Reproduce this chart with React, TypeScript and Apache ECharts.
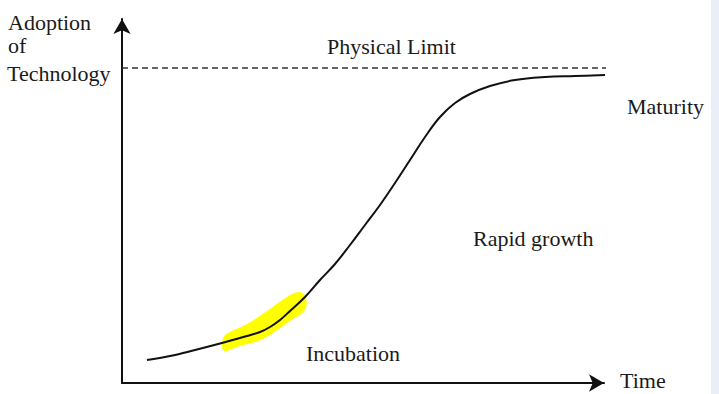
import React, { useEffect, useRef } from "react";
import * as echarts from "echarts";

// Time (x) and adoption (y, % of physical limit) for the S-curve
const curveTime = [5.0, 9.6, 14.6, 19.6, 24.6, 27.6, 29.6, 31.6, 33.6, 36.6, 39.6, 42.6, 45.6, 48.6, 51.6, 54.6, 57.6, 60.6, 63.6, 66.6, 69.6, 73.6, 78.6, 84.6, 90.6, 97.0];
const curveAdoption = [7.3, 8.57, 10.48, 12.54, 14.76, 16.19, 17.78, 20.0, 22.86, 27.3, 32.7, 37.78, 43.81, 50.16, 56.51, 63.49, 70.79, 78.1, 84.44, 88.89, 91.75, 94.29, 96.19, 97.14, 97.46, 97.78];

// Physical limit level
const limitLevel = 100;
const limitTime = [0, 99.6];

// Yellow highlight band outline
const bandTime = [20.0, 20.6, 25.0, 28.4, 33.6, 35.6, 36.8, 36.6, 33.6, 28.2, 23.6, 20.4];
const bandAdoption = [12.7, 15.24, 18.73, 22.22, 27.94, 28.89, 27.3, 23.17, 19.68, 13.97, 11.75, 10.16];

// Text labels
const axisTitleY = ["Adoption", "of", "Technology"];
const axisTitleX = "Time";
const limitLabel = "Physical Limit";
const phaseLabels = ["Incubation", "Rapid growth", "Maturity"];

export default function App() {
  const ref = useRef<HTMLDivElement>(null);
  useEffect(() => {
    if (!ref.current) return;
    const chart = echarts.init(ref.current, undefined, { renderer: "svg" });
    const txt = (text: string, x: number, y: number) => ({
      type: "text",
      x,
      y,
      z: 100,
      style: { text, fontFamily: "serif", fontSize: 22, fill: "#1a1a1a" },
    });
    chart.setOption({
      animation: false,
      textStyle: { fontFamily: "serif" },
      grid: { left: 122, top: 19, right: 115, bottom: 11, containLabel: false },
      xAxis: {
        type: "value",
        min: 0,
        max: 96.4,
        axisLine: { show: true, lineStyle: { color: "#111", width: 2 }, symbol: ["none", "arrow"], symbolSize: [13, 15] },
        axisTick: { show: false },
        axisLabel: { show: false },
        splitLine: { show: false },
      },
      yAxis: {
        type: "value",
        min: 0,
        max: 115.56,
        axisLine: { show: true, lineStyle: { color: "#111", width: 2 }, symbol: ["none", "arrow"], symbolSize: [13, 15] },
        axisTick: { show: false },
        axisLabel: { show: false },
        splitLine: { show: false },
      },
      series: [
        {
          type: "custom",
          clip: false,
          data: [0],
          renderItem: (_params: any, api: any) => {
            const pts = bandTime.map((t, i) => api.coord([t, bandAdoption[i]]));
            return {
              type: "polygon",
              shape: { points: pts, smooth: 0.3 },
              style: { fill: "#ffff00", stroke: "none" },
            };
          },
          z: 1,
        },
        {
          type: "line",
          clip: false,
          data: limitTime.map((t) => [t, limitLevel]),
          symbol: "none",
          lineStyle: { color: "#333", width: 1.3, type: [6, 4] },
          z: 2,
        },
        {
          type: "line",
          clip: false,
          smooth: 0.4,
          data: curveTime.map((t, i) => [t, curveAdoption[i]]),
          symbol: "none",
          lineStyle: { color: "#111", width: 2 },
          z: 3,
        },
      ],
      graphic: [
        { type: "rect", left: 711, top: 0, shape: { width: 8, height: 394 }, style: { fill: "#e9eef8" } },
        txt(axisTitleY[0], 8, 11),
        txt(axisTitleY[1], 8, 34),
        txt(axisTitleY[2], 7, 62),
        txt(limitLabel, 327, 35),
        txt(phaseLabels[2], 627, 95),
        txt(phaseLabels[1], 473, 227),
        txt(phaseLabels[0], 306, 342),
        txt(axisTitleX, 620, 369),
      ],
    });
    return () => chart.dispose();
  }, []);
  return (
    <div
      ref={ref}
      style={{ position: "fixed", left: 0, top: 0, width: 719, height: 394, background: "#fff", fontFamily: "'Liberation Serif', serif" }}
    />
  );
}
